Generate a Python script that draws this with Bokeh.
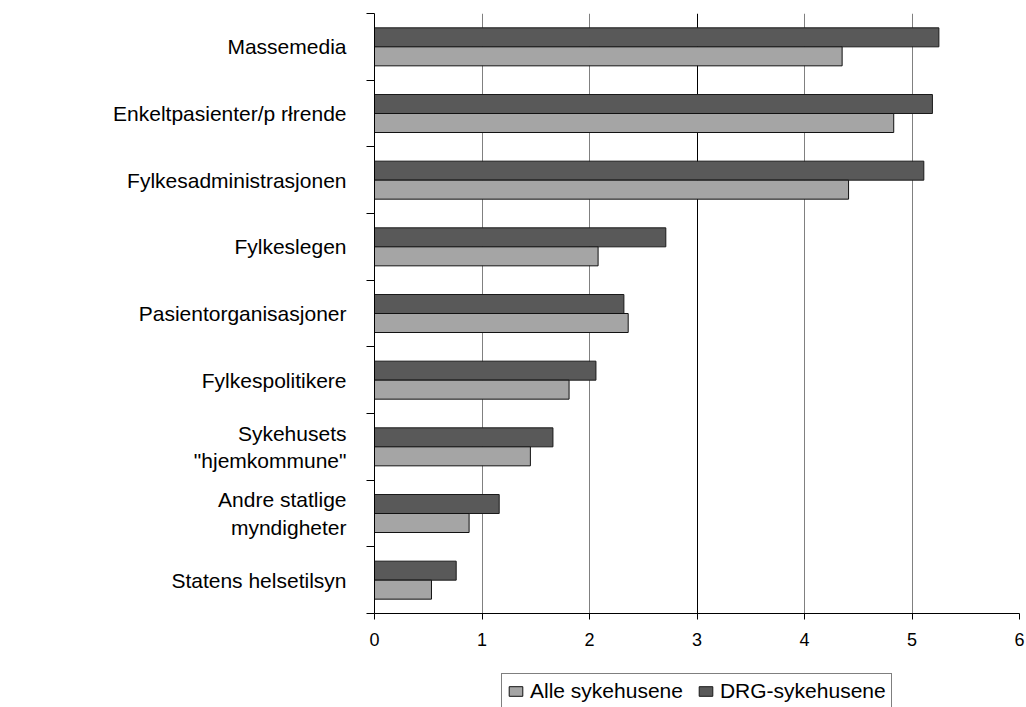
import numpy as np
from bokeh.plotting import figure
from bokeh.layouts import column
from bokeh.models import (Range1d, FixedTicker, Grid, Legend, LegendItem,
                          ColumnDataSource)
from bokeh.embed import file_html
from bokeh.resources import INLINE

# Categories, listed top to bottom
categories = [
    "Massemedia",
    "Enkeltpasienter/p rłrende",
    "Fylkesadministrasjonen",
    "Fylkeslegen",
    "Pasientorganisasjoner",
    "Fylkespolitikere",
    "Sykehusets\n\"hjemkommune\"",
    "Andre statlige\nmyndigheter",
    "Statens helsetilsyn",
]
alle_sykehusene = [4.35, 4.83, 4.41, 2.08, 2.36, 1.81, 1.45, 0.88, 0.53]
drg_sykehusene = [5.25, 5.19, 5.11, 2.71, 2.32, 2.06, 1.66, 1.16, 0.76]
series_names = ["Alle sykehusene", "DRG-sykehusene"]
x_ticks = [0, 1, 2, 3, 4, 5, 6]

FONT = "Liberation Sans"
ALLE_COLOR = "#a5a5a5"
DRG_COLOR = "#595959"
n = len(categories)
centers = n - np.arange(n) - 0.5          # first category at the top
bar_h = 0.285

src = ColumnDataSource(dict(
    cat=categories,
    alle=alle_sykehusene,
    drg=drg_sykehusene,
    y_drg=centers + bar_h / 2,
    y_alle=centers - bar_h / 2,
))

p = figure(frame_width=645, frame_height=600,
           output_backend="svg", toolbar_location=None,
           x_range=Range1d(x_ticks[0], x_ticks[-1]), y_range=Range1d(0, n),
           min_border_left=374, min_border_right=7, min_border_top=13,
           min_border_bottom=49)
p.outline_line_color = None
p.background_fill_color = "white"
p.border_fill_color = "white"

p.hbar(y="y_drg", left=0, right="drg", height=bar_h, source=src,
       fill_color=DRG_COLOR, line_color="#1a1a1a", line_width=1)
p.hbar(y="y_alle", left=0, right="alle", height=bar_h, source=src,
       fill_color=ALLE_COLOR, line_color="#111111", line_width=1)

# x axis
xa = p.xaxis[0]
xa.ticker = FixedTicker(ticks=x_ticks)
xa.axis_line_color = "black"
xa.major_tick_line_color = "black"
xa.major_tick_out = 6
xa.major_tick_in = 0
xa.minor_tick_line_color = None
xa.major_label_text_font = FONT
xa.major_label_text_font_size = "18px"
xa.major_label_text_color = "black"
xa.major_label_standoff = 13

# y axis: labels at category centres, tick marks at category boundaries
ya = p.yaxis[0]
ya.ticker = FixedTicker(ticks=list(centers), minor_ticks=list(range(n + 1)))
ya.major_label_overrides = {float(c): lab for c, lab in zip(centers, categories)}
ya.axis_line_color = "black"
ya.major_tick_line_color = None
ya.major_tick_out = 0
ya.major_tick_in = 0
ya.minor_tick_line_color = "black"
ya.minor_tick_out = 8
ya.minor_tick_in = 0
ya.major_label_text_font = FONT
ya.major_label_text_font_size = "21px"
ya.major_label_text_color = "black"
ya.major_label_standoff = 20

# grid lines
p.xgrid.ticker = FixedTicker(ticks=[1, 2, 4, 5])
p.xgrid.grid_line_color = "#808080"
p.xgrid.grid_line_width = 1
p.add_layout(Grid(dimension=0, ticker=FixedTicker(ticks=[3, 6]),
                  grid_line_color="black", grid_line_width=1))
p.ygrid.ticker = FixedTicker(ticks=[n])
p.ygrid.grid_line_color = "#808080"

# legend strip underneath the chart; its key renderers share the bar data
# but sit outside the strip's visible range, so only the legend shows
leg = figure(width=1026, height=45, output_backend="svg", toolbar_location=None,
             x_axis_location=None, y_axis_location=None,
             x_range=Range1d(100, 101), y_range=Range1d(100, 101),
             min_border=0)
leg.outline_line_color = None
leg.grid.grid_line_color = None
leg.background_fill_color = "white"
leg.border_fill_color = "white"
key_alle = leg.hbar(y="y_alle", left=0, right="alle", height=bar_h, source=src,
                    fill_color=ALLE_COLOR, line_color="#111111")
key_drg = leg.hbar(y="y_drg", left=0, right="drg", height=bar_h, source=src,
                   fill_color=DRG_COLOR, line_color="#1a1a1a")

legend = Legend(
    items=[LegendItem(label=series_names[0], renderers=[key_alle]),
           LegendItem(label=series_names[1], renderers=[key_drg])],
    orientation="horizontal", location=(127, -2), margin=0,
    padding=5, spacing=14, label_standoff=6,
    glyph_width=17, glyph_height=12,
    border_line_color="black", border_line_width=1,
    background_fill_color="white", background_fill_alpha=1,
    label_text_font=FONT, label_text_font_size="21px",
    label_text_color="black",
)
leg.add_layout(legend)

layout = column(p, leg, spacing=0)
open("out.html", "w").write(file_html(layout, INLINE))
